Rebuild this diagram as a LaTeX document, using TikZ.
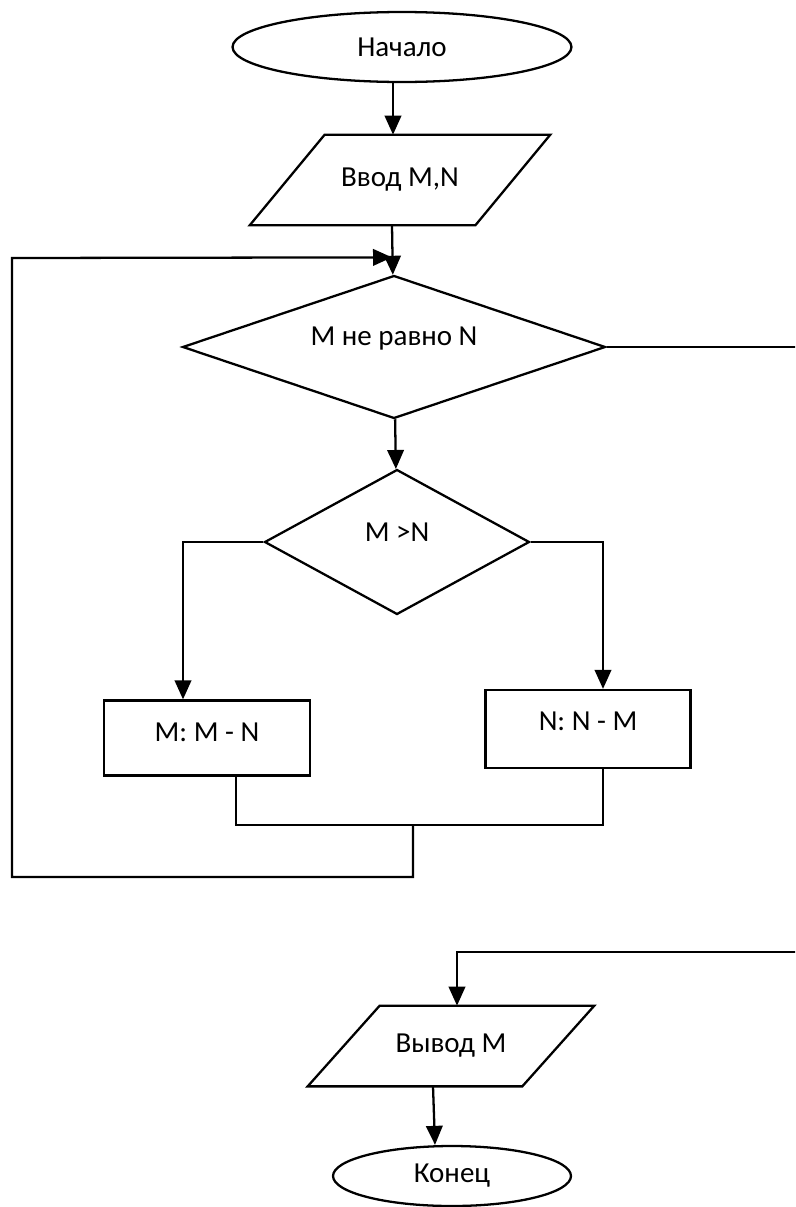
\documentclass[tikz,border=0pt]{standalone}
\usepackage{fontspec}
\setmainfont{Carlito}
\usetikzlibrary{shapes.geometric,arrows.meta,calc}
\begin{document}
\begin{tikzpicture}[x=0.02cm,y=-0.02cm,
  font=\fontsize{16.5}{19}\selectfont,
  blk/.style={draw,line width=1.3pt,inner sep=0pt},
  term/.style={blk,ellipse},
  io/.style={rectangle,inner sep=0pt},
  cond/.style={blk,diamond},
  act/.style={blk,rectangle},
  line/.style={line width=1.3pt},
  arr/.style={line,-{Triangle[length=0.38cm,width=0.33cm]}}]
\useasboundingbox (0,0) rectangle (795,1207);
\clip (0,0) rectangle (795,1207);
% blocks
\node[term,minimum width=6.78cm,minimum height=1.4cm] (start) at (402,47) {Начало};
\node[io,minimum width=6cm,minimum height=1.8cm] (inp) at (400,180) {Ввод M,N};
\node[cond,aspect=2.96,minimum width=8.46cm,minimum height=2.86cm] (cmp) at (394,347) {\raisebox{12pt}{M не равно N}};
\node[cond,aspect=1.83,minimum width=5.3cm,minimum height=2.9cm] (gt) at (397,542) {\raisebox{11pt}{M >N}};
\node[act,minimum width=4.12cm,minimum height=1.5cm] (subm) at (207,738) {\raisebox{7pt}{M: M - N}};
\node[act,minimum width=4.1cm,minimum height=1.56cm] (subn) at (588,729) {\raisebox{9pt}{N: N - M}};
\node[io,minimum width=5.72cm,minimum height=1.6cm] (outp) at (451,1046) {Вывод M};
\node[term,minimum width=4.76cm,minimum height=1.2cm] (stop) at (452,1176) {Конец};
% parallelogram outlines
\draw[line] (inp.south west) -- ($(inp.north west)+(75,0)$) -- (inp.north east) -- ($(inp.south east)+(-75,0)$) -- cycle;
\draw[line] (outp.south west) -- ($(outp.north west)+(72,0)$) -- (outp.north east) -- ($(outp.south east)+(-72,0)$) -- cycle;
% helper points
\coordinate (loopin) at ($(cmp.north)+(-2,-17)$);
\coordinate (inm) at ($(subm.north)+(-24,0)$);
\coordinate (inn) at ($(subn.north)+(15,0)$);
\coordinate (jl) at ($(subm.south)+(29,0)$);
\coordinate (jr) at ($(subn.south)+(15,0)$);
\coordinate (mrg) at (413,825);
\coordinate (outin) at ($(outp.north)+(6,0)$);
% connectors
\draw[arr] ($(start.south)+(-9,0)$) -- ($(inp.north)+(-7,0)$);
\draw[arr] ($(inp.south)+(-8,0)$) -- (cmp);
\draw[arr] (cmp) -- (gt);
\draw[arr] (gt.west) -| (inm);
\draw[arr] (gt.east) -| (inn);
\draw[line] (jl) |- (mrg) -| (jr);
\draw[arr] (mrg) -- (mrg |- 0,877) -| (12,258) -- (loopin);
\draw[arr] (cmp.east) -| (800,952) -| (outin);
\draw[arr] ($(outp.south)+(-18,0)$) -- ($(stop.north)+(-17,0)$);
\end{tikzpicture}
\end{document}
